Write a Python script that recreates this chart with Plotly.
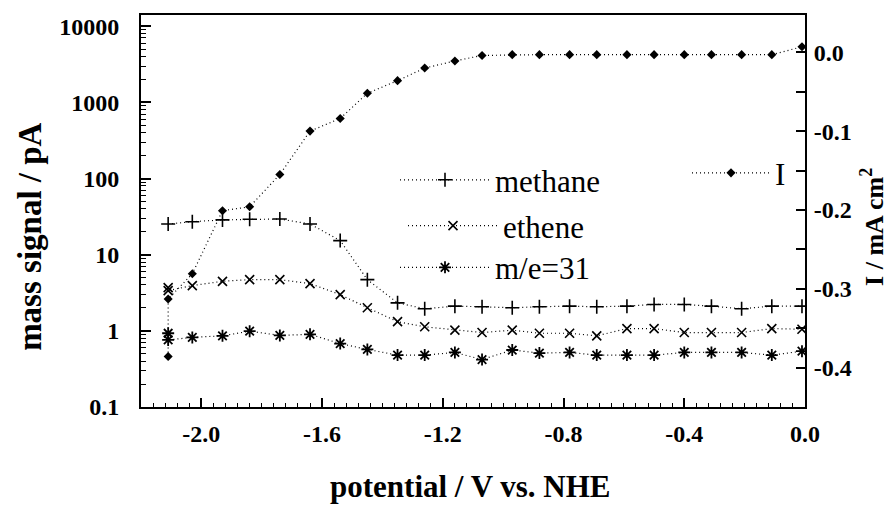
import plotly.graph_objects as go

# ---- data ----
potential = [-2.11, -2.03, -1.93, -1.84, -1.74, -1.64, -1.54, -1.45, -1.35, -1.26,
             -1.16, -1.07, -0.97, -0.88, -0.78, -0.69, -0.59, -0.50, -0.40, -0.31,
             -0.21, -0.11, -0.01]

methane = [25.3, 27.1, 28.6, 29.2, 29.4, 25.3, 15.3, 4.7, 2.33, 1.95,
           2.11, 2.07, 2.01, 2.07, 2.11, 2.07, 2.11, 2.22, 2.22, 2.11,
           1.95, 2.11, 2.11]

# first potential was measured twice for ethene, m/e=31 and the current
ethene_potential = [-2.11] + potential
ethene = [3.70, 3.38, 3.93, 4.47, 4.70, 4.70, 4.17, 2.99, 2.01, 1.32, 1.13,
          1.02, 0.95, 1.02, 0.93, 0.93, 0.86, 1.07, 1.07, 0.95, 0.95,
          0.95, 1.07, 1.05]

me31_potential = [-2.11] + potential
me31 = [0.93, 0.76, 0.82, 0.86, 0.99, 0.87, 0.90, 0.68, 0.57, 0.48, 0.48,
        0.52, 0.42, 0.56, 0.51, 0.52, 0.48, 0.48, 0.48, 0.52, 0.52,
        0.52, 0.48, 0.54]

current_potential = [-2.11] + potential
current = [-0.386, -0.313, -0.281, -0.201, -0.196, -0.155, -0.100, -0.084,
           -0.052, -0.036, -0.020, -0.011, -0.004, -0.003, -0.003, -0.003,
           -0.003, -0.003, -0.003, -0.003, -0.003, -0.003, -0.003, 0.007]

x_tickvals = [-2.0, -1.6, -1.2, -0.8, -0.4, 0.0]
x_ticktext = ["-2.0", "-1.6", "-1.2", "-0.8", "-0.4", "0.0"]
y_tickvals = [0.1, 1, 10, 100, 1000, 10000]
y_ticktext = ["0.1", "1", "10", "100", "1000", "10000"]
y2_tickvals = [0.0, -0.1, -0.2, -0.3, -0.4]
y2_ticktext = ["0.0", "-0.1", "-0.2", "-0.3", "-0.4"]

# ---- layout geometry (page pixels; the page body adds an 8px offset) ----
OFF = 8
W, H = 893 - OFF, 505 - OFF
L, R, T, B = 141 - OFF, 88, 13 - OFF, 98
PW, PH = W - L - R, H - T - B


def px(x):  # page x -> paper fraction
    return (x - OFF - L) / PW


def py(y):  # page y -> paper fraction
    return (H - B - (y - OFF)) / PH


SERIF = "Liberation Serif"
line_style = dict(color="black", width=1.2, dash="1px,3px")

fig = go.Figure()
fig.add_trace(go.Scatter(
    x=potential, y=methane, name="methane", mode="lines+markers",
    line=line_style,
    marker=dict(symbol="cross-thin-open", size=10, color="black",
                line=dict(color="black", width=1.6)),
    legend="legend"))
fig.add_trace(go.Scatter(
    x=ethene_potential, y=ethene, name="ethene", mode="lines+markers",
    line=line_style,
    marker=dict(symbol="x-thin-open", size=9, color="black",
                line=dict(color="black", width=1.6)),
    legend="legend2"))
fig.add_trace(go.Scatter(
    x=me31_potential, y=me31, name="m/e=31", mode="lines+markers",
    line=line_style,
    marker=dict(symbol="asterisk-open", size=10, color="black",
                line=dict(color="black", width=1.8)),
    legend="legend3"))
fig.add_trace(go.Scatter(
    x=current_potential, y=current, name="I", mode="lines+markers",
    line=line_style, yaxis="y2",
    marker=dict(symbol="diamond", size=7, color="black"),
    legend="legend4"))

leg_common = dict(font=dict(family=SERIF, size=31, color="black"),
                  bgcolor="rgba(0,0,0,0)", borderwidth=0,
                  xanchor="left", yanchor="middle", visible=True)

fig.update_layout(
    width=W, height=H,
    margin=dict(l=L, r=R, t=T, b=B, pad=0),
    paper_bgcolor="white", plot_bgcolor="white",
    font=dict(family=SERIF, color="black"),
    showlegend=True,
    legend=dict(x=px(395), y=py(179), itemwidth=90, **leg_common),
    legend2=dict(x=px(403), y=py(225), itemwidth=90, **leg_common),
    legend3=dict(x=px(395), y=py(267), itemwidth=90, **leg_common),
    legend4=dict(x=px(687), y=py(172), itemwidth=78, **leg_common),
    xaxis=dict(
        range=[-2.2, 0.0], tickmode="array", tickvals=x_tickvals, ticktext=x_ticktext,
        ticks="inside", ticklen=9, tickwidth=1.5, tickcolor="black",
        minor=dict(dtick=0.04, tick0=-2.0, ticks="inside", ticklen=4,
                   tickwidth=1, tickcolor="black", showgrid=False),
        showline=True, linecolor="black", linewidth=2, mirror=True,
        showgrid=False, zeroline=False,
        tickfont=dict(family=SERIF, size=24, color="black", weight="bold"),
        ticklabelstandoff=4,
    ),
    yaxis=dict(
        type="log", range=[-1.0, 4.147], tickmode="array",
        tickvals=y_tickvals, ticktext=y_ticktext,
        ticks="inside", ticklen=10, tickwidth=1.5, tickcolor="black",
        minor=dict(tickmode="array",
                   tickvals=[m * 10 ** e for e in range(-1, 4) for m in range(2, 10)],
                   ticks="inside", ticklen=5, tickwidth=1, tickcolor="black",
                   showgrid=False),
        showline=True, linecolor="black", linewidth=2,
        showgrid=False, zeroline=False,
        tickfont=dict(family=SERIF, size=24, color="black", weight="bold"),
        ticklabelstandoff=15,
    ),
    yaxis2=dict(
        overlaying="y", side="right", range=[-0.45, 0.0473],
        tickmode="array", tickvals=y2_tickvals, ticktext=y2_ticktext,
        ticks="inside", ticklen=9, tickwidth=1.5, tickcolor="black",
        minor=dict(dtick=0.05, tick0=0, ticks="inside", ticklen=9,
                   tickwidth=1.5, tickcolor="black", showgrid=False),
        showline=True, linecolor="black", linewidth=2,
        showgrid=False, zeroline=False,
        tickfont=dict(family=SERIF, size=24, color="black", weight="bold"),
        ticklabelstandoff=2,
    ),
    annotations=[
        dict(text="<b>mass signal / pA</b>", xref="paper", yref="paper",
             x=px(30), y=py(236), textangle=-90, showarrow=False,
             xanchor="center", yanchor="middle",
             font=dict(family=SERIF, size=33, color="black")),
        dict(text="<b>potential / V vs. NHE</b>", xref="paper", yref="paper",
             x=px(470), y=py(487), showarrow=False,
             xanchor="center", yanchor="middle",
             font=dict(family=SERIF, size=31, color="black")),
        dict(text="<b>I / mA cm<sup>2</sup></b>", xref="paper", yref="paper",
             x=px(873), y=py(226), textangle=-90, showarrow=False,
             xanchor="center", yanchor="middle",
             font=dict(family=SERIF, size=26, color="black")),
    ],
)

fig.write_html("out.html")
